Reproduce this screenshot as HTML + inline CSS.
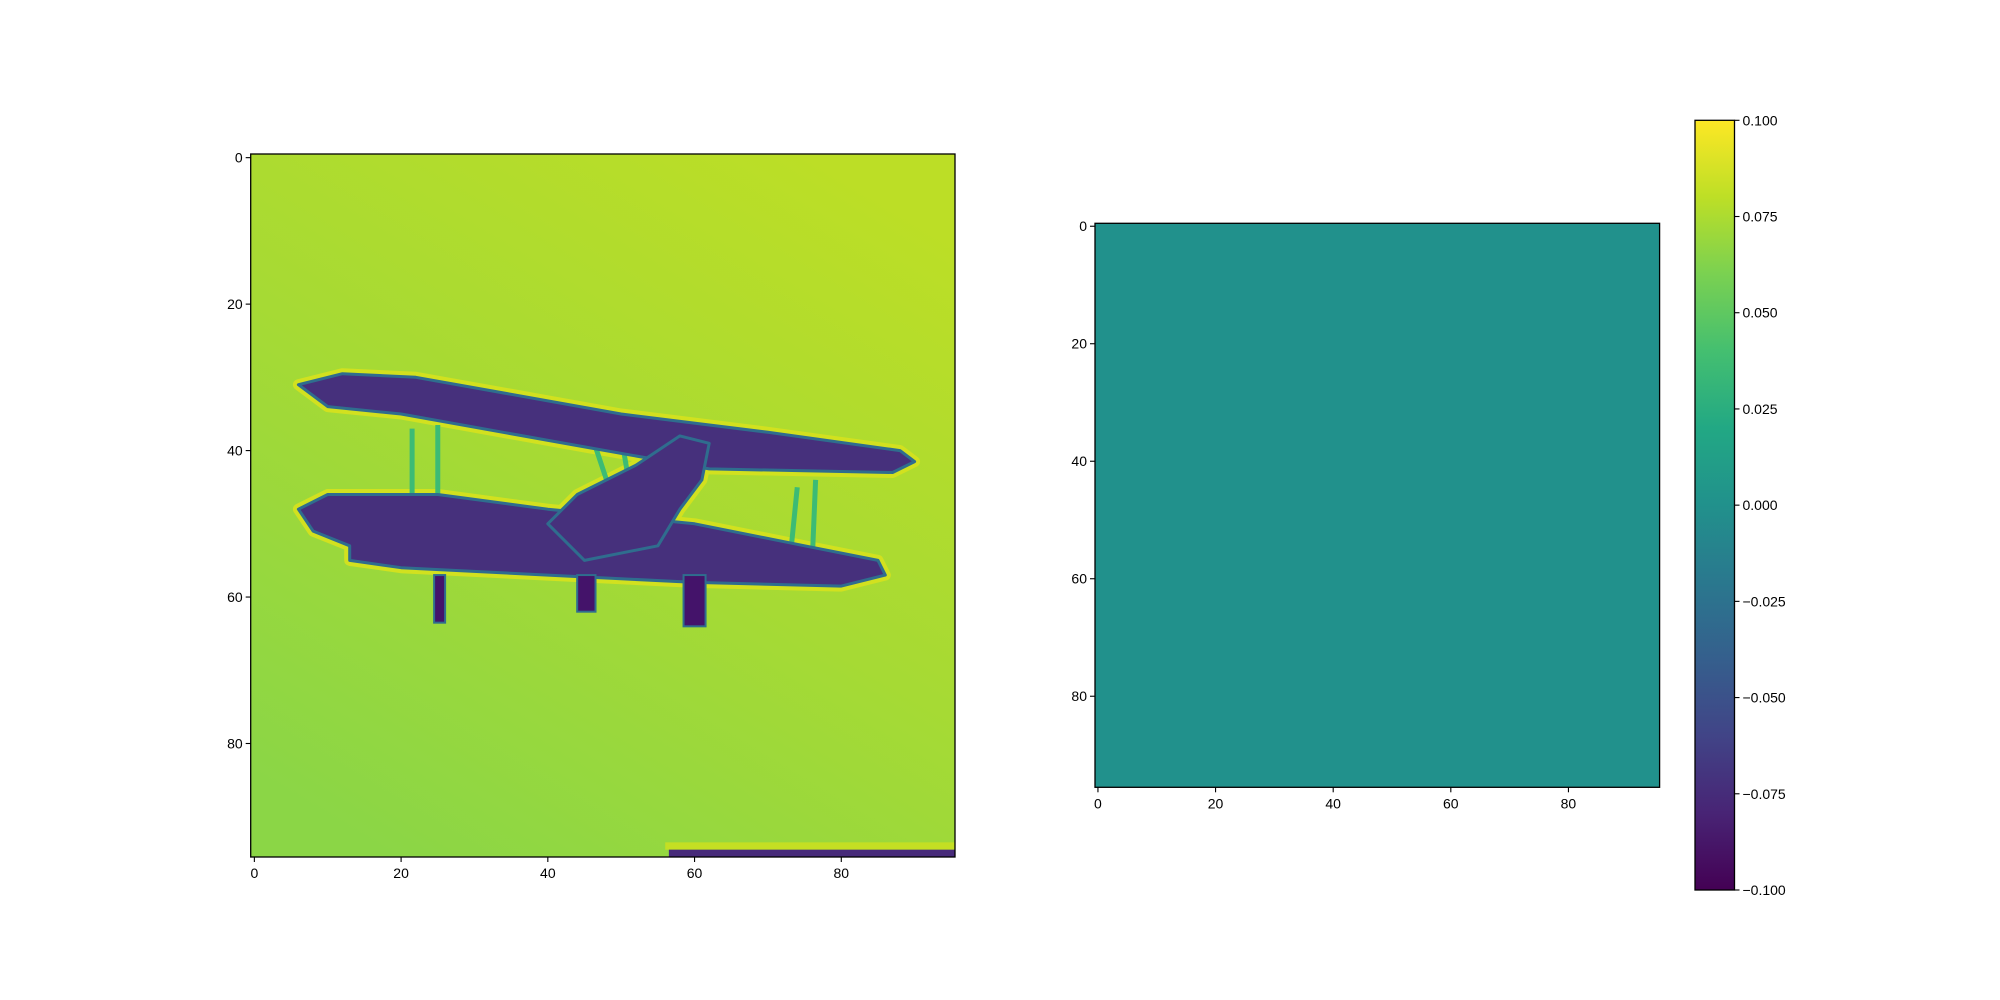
<!DOCTYPE html>
<html><head><meta charset="utf-8"><style>
html,body{margin:0;padding:0;background:#fff;}
svg{display:block;font-family:"Liberation Sans","DejaVu Sans",sans-serif;}
</style></head><body>
<svg id="fig" width="2000" height="1000" viewBox="0 0 2000 1000" xmlns="http://www.w3.org/2000/svg">
<defs>
<linearGradient id="bgGrad" x1="0.8" y1="0" x2="0.2" y2="1">
<stop offset="0" stop-color="#bcde26"/><stop offset="0.5" stop-color="#a6da34"/><stop offset="1" stop-color="#8bd646"/>
</linearGradient>
<linearGradient id="cbGrad" x1="0" y1="1" x2="0" y2="0">
<stop offset="0" stop-color="#440154"/><stop offset="0.1" stop-color="#482475"/><stop offset="0.2" stop-color="#414487"/><stop offset="0.3" stop-color="#355f8d"/><stop offset="0.4" stop-color="#2a788e"/><stop offset="0.5" stop-color="#21918c"/><stop offset="0.6" stop-color="#22a884"/><stop offset="0.7" stop-color="#44bf70"/><stop offset="0.8" stop-color="#7ad151"/><stop offset="0.9" stop-color="#bddf26"/><stop offset="1" stop-color="#fde725"/>
</linearGradient>
<clipPath id="clipL"><rect x="250.7" y="154" width="704.3" height="703"/></clipPath>
</defs>
</svg>
<script>
// data (image pixel coordinates, 96x96 image)
const imgSize = 96;
const xTicks = [0, 20, 40, 60, 80];
const yTicks = [0, 20, 40, 60, 80];
const cbTicks = [-0.100, -0.075, -0.050, -0.025, 0.000, 0.025, 0.050, 0.075, 0.100];
const cbMin = -0.1, cbMax = 0.1;
const rightValue = 0.0;
const upperWing = [[6,31],[12,29.5],[22,30],[50,35],[70,37.5],[88,40],[90,41.5],[87,43],[62,42.5],[45,39.5],[20,35],[10,34]];
const lowerWing = [[6,48],[10,46],[25,46],[40,48],[60,50],[75,53],[85,55],[86,57],[80,58.5],[60,58],[40,57],[20,56],[13,55],[13,53],[8,51]];
const fuselage = [[40,50],[44,46],[52,42],[58,38],[62,39],[61,44],[58,48],[55,53],[45,55]];
const gear = [[24.5,57,26,63.5],[44,57,46.5,62],[58.5,57,61.5,64]];
const struts = [[21.5,37,21.5,46],[25,36.5,25,46],[46,38,48,44],[50,38,51,44],[74,45,73,55],[76.5,44,76,56]];
const bottomStrip = [[55,94.5,96,96]];
</script>
<script>
const NS = "http://www.w3.org/2000/svg";
const svg = document.getElementById('fig');
function mk(tag, attrs, parent){const e=document.createElementNS(NS,tag);for(const k in attrs)e.setAttribute(k,attrs[k]);(parent||svg).appendChild(e);return e;}
function axes(x0,y0,w,h){return {sx:v=>x0+(v+0.5)/imgSize*w, sy:v=>y0+(v+0.5)/imgSize*h, x0,y0,w,h};}
const L = axes(250.7,154,704.3,703);
const R = axes(1095,223.3,564.6,564);
function pts(ax,arr){return arr.map(p=>ax.sx(p[0]).toFixed(1)+','+ax.sy(p[1]).toFixed(1)).join(' ');}

const gL = mk('g',{'clip-path':'url(#clipL)'});


const bg = mk('rect',{x:L.x0,y:L.y0,width:L.w,height:L.h,fill:'url(#bgGrad)'},gL);


const shapes = [['upper-wing',upperWing],['lower-wing',lowerWing],['fuselage',fuselage]];
shapes.forEach(s=>{const e=mk('polygon',{points:pts(L,s[1]),fill:'none',stroke:'#d2e11f','stroke-width':11,'stroke-linejoin':'round'},gL);

});
struts.forEach(s=>{const e=mk('line',{x1:L.sx(s[0]),y1:L.sy(s[1]),x2:L.sx(s[2]),y2:L.sy(s[3]),stroke:'#3cbb75','stroke-width':5},gL);

});
shapes.forEach(s=>{const e=mk('polygon',{points:pts(L,s[1]),fill:'#46307c',stroke:'#2f6d8e','stroke-width':3,'stroke-linejoin':'round'},gL);

});
gear.forEach(g=>{const e=mk('rect',{x:L.sx(g[0]),y:L.sy(g[1]),width:L.sx(g[2])-L.sx(g[0]),height:L.sy(g[3])-L.sy(g[1]),fill:'#44136a',stroke:'#2f6d8e','stroke-width':2},gL);

});
bottomStrip.forEach(b=>{
const y=mk('rect',{x:L.sx(b[0]+1),y:L.sy(b[1]-1),width:L.sx(b[2])-L.sx(b[0]+1),height:L.sy(b[1])-L.sy(b[1]-1),fill:'#c4df23'},gL);


const e=mk('rect',{x:L.sx(b[0]+1.5),y:L.sy(b[1]),width:L.sx(b[2])-L.sx(b[0]+1.5),height:L.sy(b[3])-L.sy(b[1]),fill:'#472a7a'},gL);

});

function viridisHex(t){const c=['#440154','#482475','#414487','#355f8d','#2a788e','#21918c','#22a884','#44bf70','#7ad151','#bddf26','#fde725'];return c[Math.round(t*10)];}
const rImg = mk('rect',{x:R.x0,y:R.y0,width:R.w,height:R.h,fill:viridisHex((rightValue-cbMin)/(cbMax-cbMin))});



function drawAxes(ax,name){
 const f=mk('rect',{x:ax.x0,y:ax.y0,width:ax.w,height:ax.h,fill:'none',stroke:'#000','stroke-width':1.3});
 
 
 xTicks.forEach(t=>{const x=ax.sx(t);
  mk('line',{x1:x,y1:ax.y0+ax.h,x2:x,y2:ax.y0+ax.h+5,stroke:'#000','stroke-width':1.1});
  const tx=mk('text',{x:x,y:ax.y0+ax.h+21,'font-size':14,'text-anchor':'middle'});tx.textContent=t;
  
  });
 yTicks.forEach(t=>{const y=ax.sy(t);
  mk('line',{x1:ax.x0-5,y1:y,x2:ax.x0,y2:y,stroke:'#000','stroke-width':1.1});
  const tx=mk('text',{x:ax.x0-8,y:y+5,'font-size':14,'text-anchor':'end'});tx.textContent=t;
  
  });
}
drawAxes(L,'left-axes');
drawAxes(R,'right-axes');

const cb={x:1695,y:120.3,w:39.5,h:769.7};
const cbr=mk('rect',{x:cb.x,y:cb.y,width:cb.w,height:cb.h,fill:'url(#cbGrad)',stroke:'#000','stroke-width':1.3});


cbTicks.forEach(v=>{const y=cb.y+cb.h*(cbMax-v)/(cbMax-cbMin);
 mk('line',{x1:cb.x+cb.w,y1:y,x2:cb.x+cb.w+5,y2:y,stroke:'#000','stroke-width':1.1});
 const tx=mk('text',{x:cb.x+cb.w+8,y:y+5,'font-size':14});tx.textContent=(v<0?'\u2212':'')+Math.abs(v).toFixed(3);
 
 });
</script>
</body></html>
